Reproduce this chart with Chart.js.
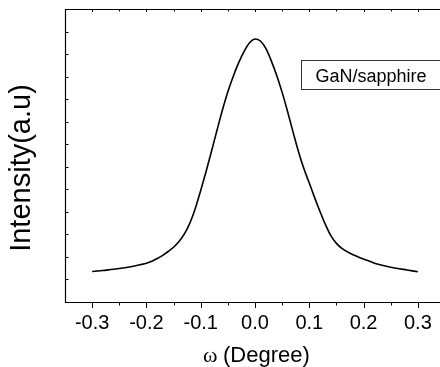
<!DOCTYPE html>
<html>
<head>
<meta charset="utf-8">
<script src="https://cdn.jsdelivr.net/npm/chart.js@4.4.1/dist/chart.umd.min.js"></script>
<style>
  html, body { margin: 0; padding: 0; overflow: hidden; background: #fff; }
  #wrap { width: 440px; height: 367px; overflow: hidden; position: relative; }
  canvas { display: block; position: absolute; left: 0; top: 0; }
</style>
</head>
<body>
<div id="wrap"><canvas id="rocking" width="446" height="367"></canvas></div>
<script>
// omega scan of GaN on sapphire, intensity in arbitrary units
const omega = [
  -0.30, -0.28, -0.26, -0.24, -0.22, -0.21, -0.20, -0.19, -0.18, -0.17,
  -0.16, -0.15, -0.14, -0.13, -0.12, -0.11, -0.10, -0.09, -0.08, -0.07,
  -0.06, -0.05, -0.04, -0.03, -0.02, -0.01, 0.00, 0.01, 0.02, 0.03,
  0.04, 0.05, 0.06, 0.07, 0.08, 0.09, 0.10, 0.11, 0.12, 0.13,
  0.14, 0.15, 0.16, 0.175, 0.19, 0.20, 0.22, 0.24, 0.26, 0.28,
  0.30,
];
const intensity = [
  1.35, 1.40, 1.45, 1.52, 1.61, 1.66, 1.72, 1.81, 1.93, 2.07,
  2.24, 2.43, 2.68, 3.02, 3.50, 4.15, 4.95, 5.80, 6.70, 7.62,
  8.52, 9.33, 10.02, 10.62, 11.12, 11.50, 11.67, 11.58, 11.25, 10.70,
  10.05, 9.30, 8.45, 7.55, 6.68, 5.92, 5.28, 4.62, 4.00, 3.42,
  2.93, 2.60, 2.38, 2.16, 2.00, 1.91, 1.72, 1.60, 1.50, 1.42,
  1.34,
];
const xTicks = [-0.3, -0.2, -0.1, 0.0, 0.1, 0.2, 0.3];
const xMinorTicks = [-0.25, -0.15, -0.05, 0.05, 0.15, 0.25];
const yTicks = [1, 2, 3, 4, 5, 6, 7, 8, 9, 10, 11, 12];
const seriesLabel = "GaN/sapphire";
const xTitleSymbol = "ω";
const xTitleText = "(Degree)";
const yTitle = "Intensity(a.u)";

const sans = "'Liberation Sans', Arial, sans-serif";

// frame, inward ticks, titles and the boxed label
const decorations = {
  id: "decorations",
  afterDraw(chart) {
    const ctx = chart.ctx;
    const a = chart.chartArea;
    const xs = chart.scales.x;
    const ys = chart.scales.y;
    ctx.save();
    ctx.strokeStyle = "#000";
    ctx.lineWidth = 1.2;
    // only three sides are visible, the right one is off the page
    ctx.beginPath();
    ctx.moveTo(a.right + 10, a.top + 0.5);
    ctx.lineTo(a.left + 0.5, a.top + 0.5);
    ctx.lineTo(a.left + 0.5, a.bottom + 0.5);
    ctx.lineTo(a.right + 10, a.bottom + 0.5);
    ctx.stroke();

    ctx.lineWidth = 1;
    ctx.beginPath();
    xTicks.forEach((v) => {
      const px = Math.round(xs.getPixelForValue(v)) + 0.5;
      ctx.moveTo(px, a.bottom); ctx.lineTo(px, a.bottom + 6);
      ctx.moveTo(px, a.top); ctx.lineTo(px, a.top + 3);
    });
    xMinorTicks.forEach((v) => {
      const px = Math.round(xs.getPixelForValue(v)) + 0.5;
      ctx.moveTo(px, a.bottom); ctx.lineTo(px, a.bottom + 3.5);
      ctx.moveTo(px, a.top); ctx.lineTo(px, a.top + 2.5);
    });
    yTicks.forEach((v) => {
      const py = Math.round(ys.getPixelForValue(v)) + 0.5;
      ctx.moveTo(a.left, py); ctx.lineTo(a.left + 3.5, py);
    });
    ctx.stroke();

    ctx.fillStyle = "#000";
    // y title
    ctx.save();
    ctx.translate(30, 168);
    ctx.rotate(-Math.PI / 2);
    ctx.font = "29px " + sans;
    ctx.textAlign = "center";
    ctx.textBaseline = "alphabetic";
    ctx.fillText(yTitle, 0, 0);
    ctx.restore();

    // x title
    ctx.textAlign = "left";
    ctx.textBaseline = "alphabetic";
    ctx.font = "22px 'Liberation Serif', 'Times New Roman', serif";
    ctx.fillText(xTitleSymbol, 203, 362);
    ctx.font = "22px " + sans;
    ctx.fillText(xTitleText, 223, 362);

    // label box
    ctx.strokeStyle = "#333";
    ctx.lineWidth = 1;
    ctx.strokeRect(301.5, 60.5, 200, 29);
    ctx.font = "18px " + sans;
    ctx.fillText(chart.data.datasets[0].label, 315.5, 81.5);
    ctx.restore();
  },
};

new Chart(document.getElementById("rocking"), {
  type: "line",
  data: {
    labels: omega,
    datasets: [
      {
        label: seriesLabel,
        data: omega.map((x, i) => ({ x: x, y: intensity[i] })),
        borderColor: "#000",
        borderWidth: 1.6,
        pointRadius: 0,
        cubicInterpolationMode: "monotone",
        fill: false,
      },
    ],
  },
  options: {
    responsive: false,
    animation: false,
    layout: { padding: { top: 9, left: 0, right: 1, bottom: 0 } },
    plugins: { legend: { display: false }, tooltip: { enabled: false } },
    scales: {
      x: {
        type: "linear",
        min: -0.35,
        max: 0.35,
        afterBuildTicks: (s) => { s.ticks = xTicks.map((v) => ({ value: v })); },
        afterFit: (s) => { s.height = 65; },
        grid: { display: false, drawTicks: false },
        border: { display: false },
        ticks: {
          color: "#000",
          padding: 9,
          font: { size: 20, family: sans },
          callback: (v) => Number(v).toFixed(1),
        },
      },
      y: {
        min: 0,
        max: 13,
        afterFit: (s) => { s.width = 65; },
        grid: { display: false, drawTicks: false },
        border: { display: false },
        ticks: { display: false },
      },
    },
  },
  plugins: [decorations],
});
</script>
</body>
</html>
